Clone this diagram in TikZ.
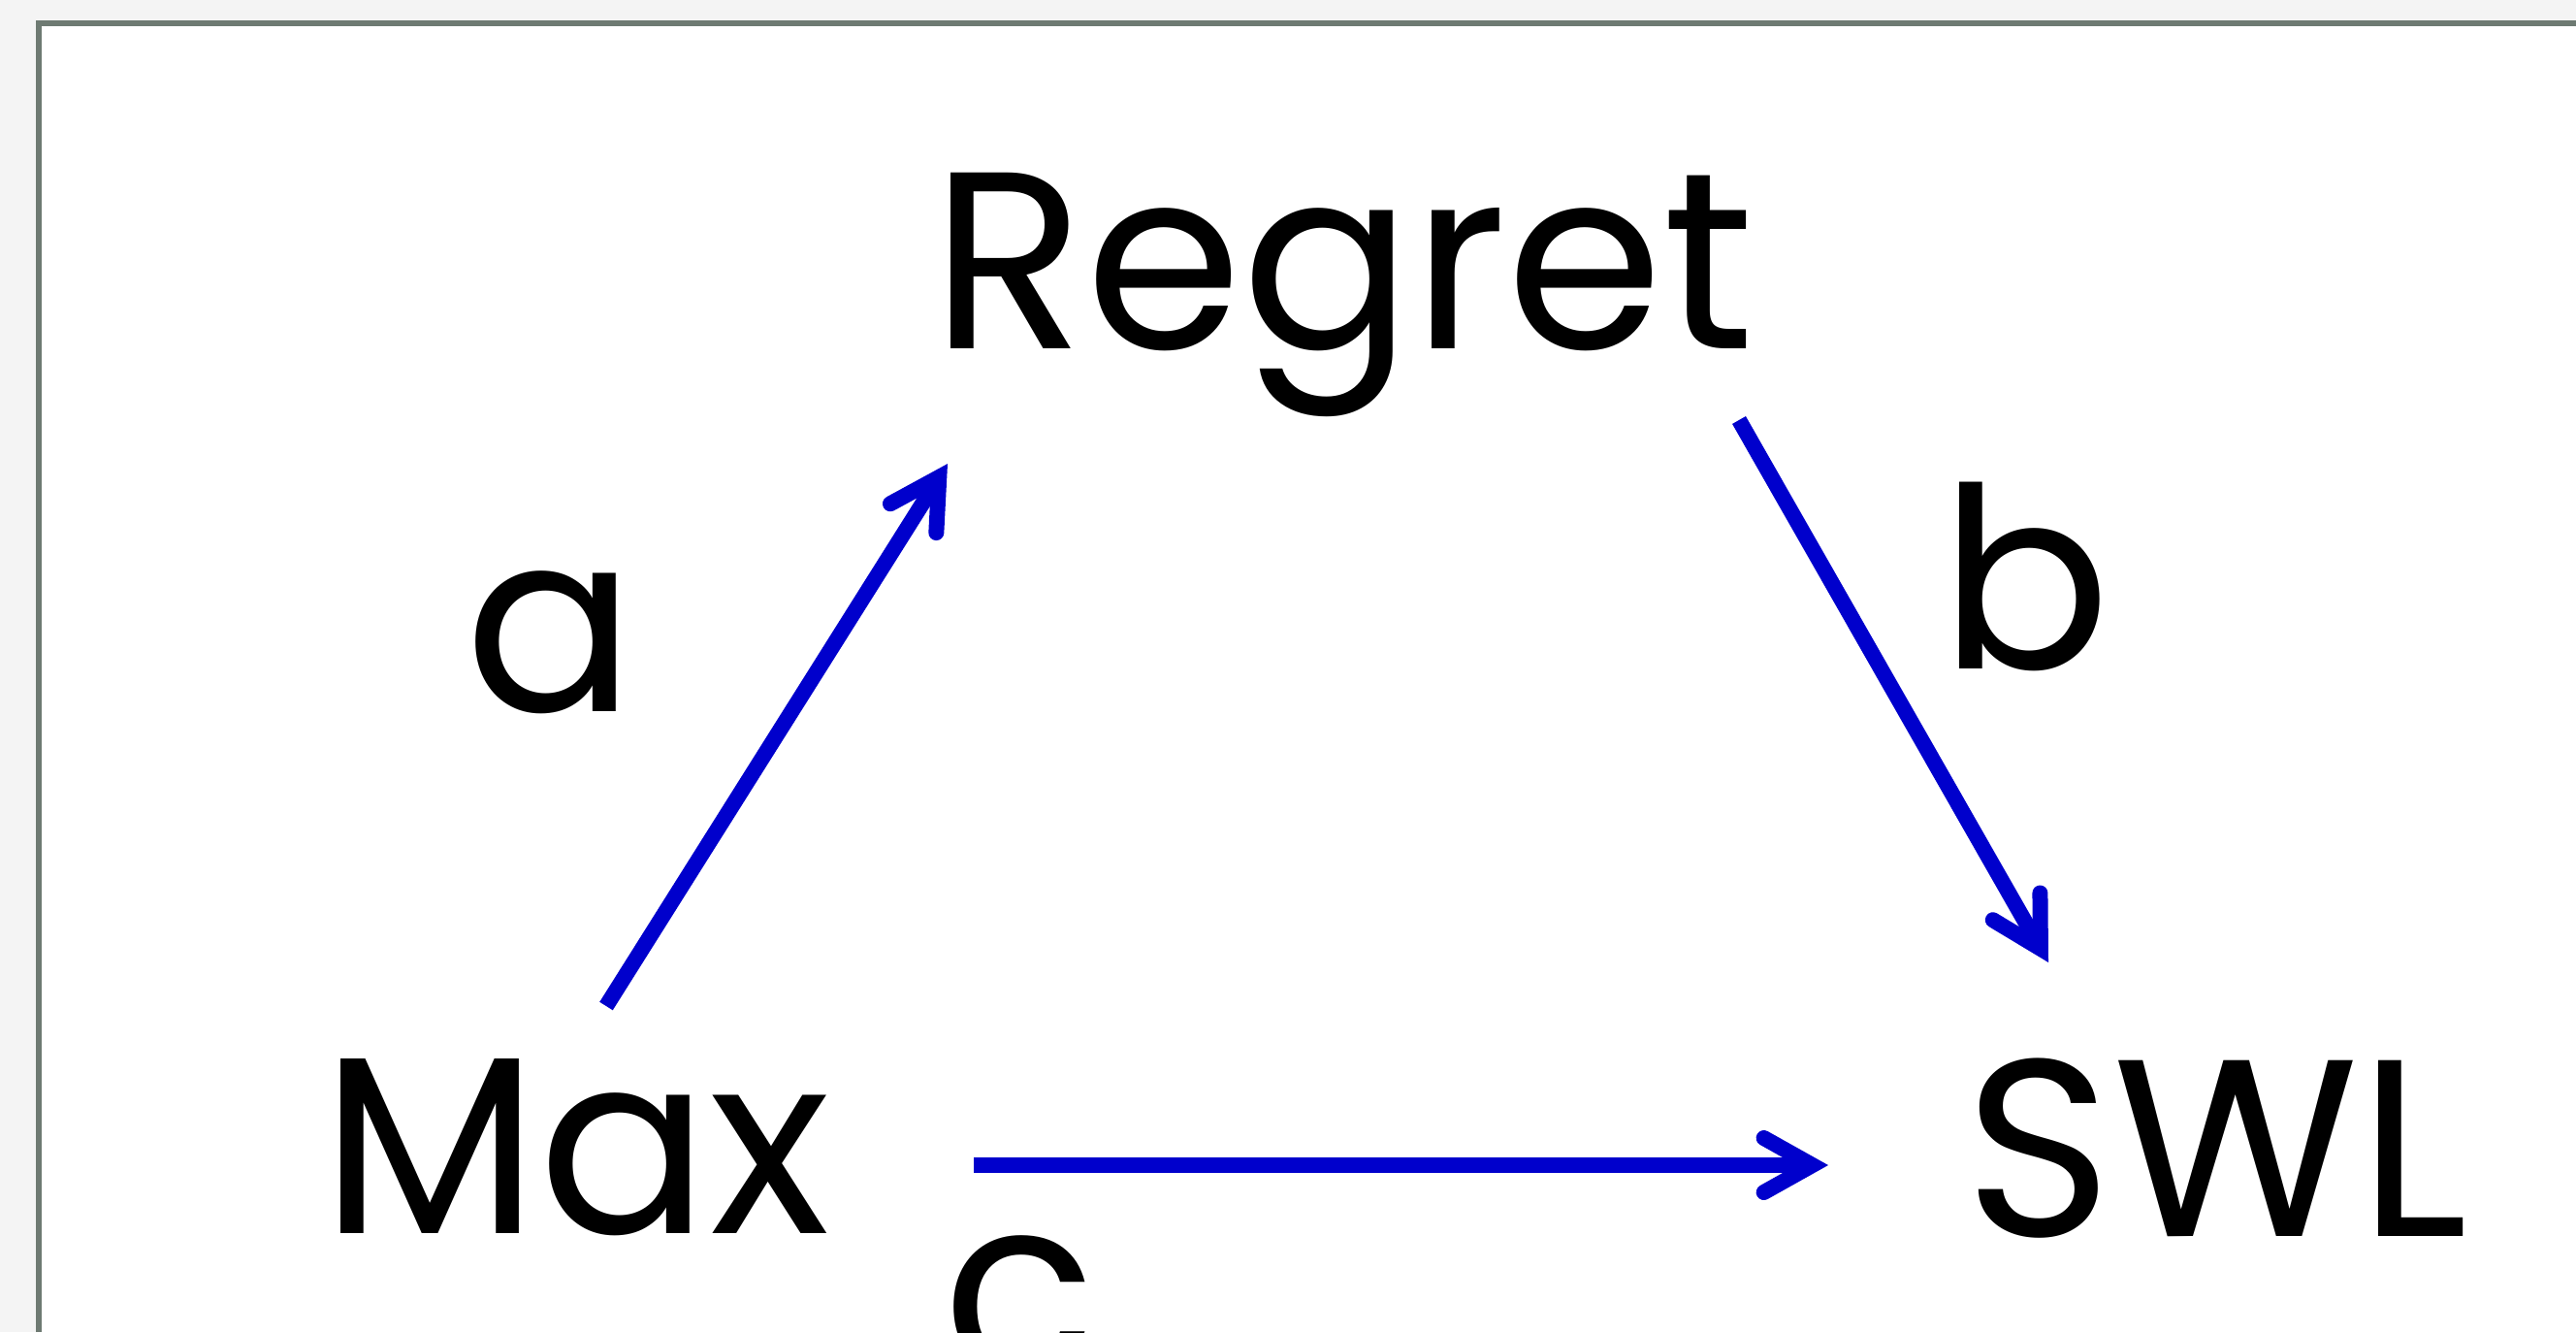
\documentclass[tikz,border=0pt]{standalone}
\usepackage{fontspec}
\setmainfont{Poppins}
\usepackage{xcolor}
\usetikzlibrary{arrows.meta}
\definecolor{bggray}{HTML}{F4F4F4}
\definecolor{framegray}{HTML}{6E7A72}
\definecolor{arrblue}{HTML}{0000CC}
\tikzset{
  lbl/.style={anchor=base,inner sep=0pt,font=\fontsize{74}{78}\selectfont},
  link/.style={arrblue,line width=1.6mm,
    -{Straight Barb[length=5mm,width=5.6mm,line cap=round,line join=miter]}}
}
\begin{document}
\begin{tikzpicture}
\useasboundingbox (0,0) rectangle (26.56,-13.73);
\clip (0,0) rectangle (26.56,-13.73);
% page and frame
\fill[bggray](0,0) rectangle (26.56,-13.73);
\fill[white](0.40,-0.24) rectangle (26.56,-13.73);
\draw[framegray,line width=0.6mm](0.40,-13.73)--(0.40,-0.24)--(26.56,-0.24);
% the three quantities
\node[lbl](regret) at (13.85,-3.59){Regret};
\node[lbl](max) at (5.94,-12.71){Max};
\node[lbl](swl) at (22.85,-12.74){SWL};
% arrow ends
\coordinate(a0) at (6.25,-10.37);
\coordinate(a1) at (9.77,-4.78);
\coordinate(b0) at (17.93,-4.33);
\coordinate(b1) at (21.12,-9.92);
\coordinate(c0) at (10.04,-12.01);
\coordinate(c1) at (18.85,-12.01);
\draw[link](a0)--(a1);
\draw[link](b0)--(b1);
\draw[link](c0)--(c1);
% labels
\node[lbl](la) at (5.67,-7.33){a};
\node[lbl](lb) at (20.88,-6.89){b};
\node[lbl](lc) at (10.51,-14.18){c};
\end{tikzpicture}
\end{document}
